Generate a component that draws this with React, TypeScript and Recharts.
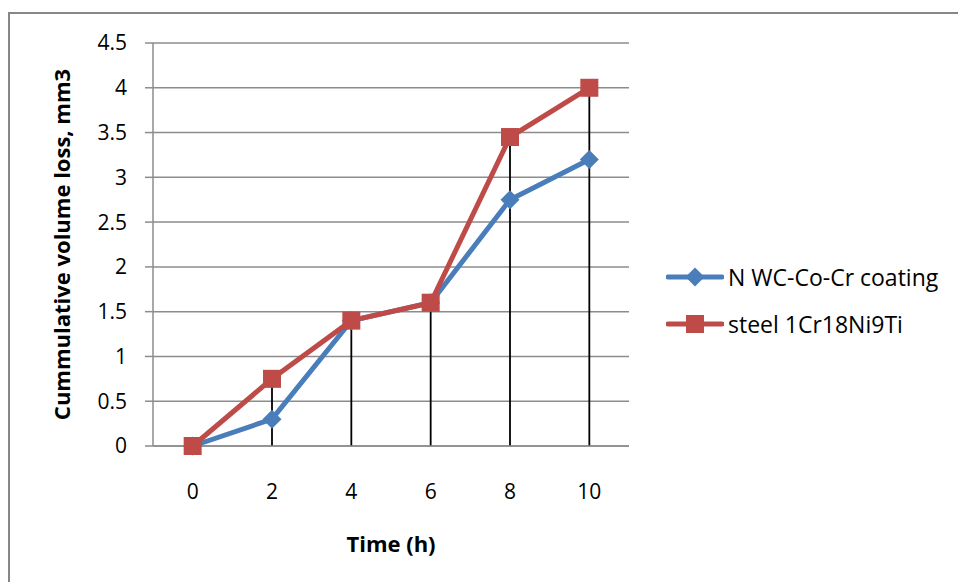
import React from "react";
import {
  ComposedChart,
  Line,
  XAxis,
  YAxis,
  CartesianGrid,
  ErrorBar,
  Label,
} from "recharts";

const hours = ["0", "2", "4", "6", "8", "10"];
const coatingLoss = [0, 0.3, 1.4, 1.6, 2.75, 3.2];
const steelLoss = [0, 0.75, 1.4, 1.6, 3.45, 4.0];
const yTicks = [0, 0.5, 1, 1.5, 2, 2.5, 3, 3.5, 4, 4.5];

const BLUE = "#4a7ebb";
const RED = "#be4b48";
const GRID = "#8c8c8c";
const FONT = "'Open Sans', sans-serif";

// drop line from the higher of the two series down to the axis
const data = hours.map((h, i) => {
  const top = Math.max(coatingLoss[i], steelLoss[i]);
  return {
    hour: h,
    coating: coatingLoss[i],
    steel: steelLoss[i],
    top,
    drop: [top, 0],
  };
});

const Diamond = (props: any) => {
  const { cx, cy, index } = props;
  if (cx == null || cy == null) return null;
  const r = 9.5;
  return (
    <polygon
      key={`d-${index}`}
      points={`${cx},${cy - r} ${cx + r},${cy} ${cx},${cy + r} ${cx - r},${cy}`}
      fill={BLUE}
    />
  );
};

const Square = (props: any) => {
  const { cx, cy, index } = props;
  if (cx == null || cy == null) return null;
  const s = 9;
  return <rect key={`s-${index}`} x={cx - s} y={cy - s} width={s * 2} height={s * 2} fill={RED} />;
};

const legendItems = [
  { name: "N WC-Co-Cr coating", color: BLUE, shape: "diamond" },
  { name: "steel 1Cr18Ni9Ti", color: RED, shape: "square" },
];

function ChartLegend() {
  return (
    <div style={{ position: "absolute", left: 666, top: 253, fontFamily: FONT }}>
      {legendItems.map((item) => (
        <div key={item.name} style={{ display: "flex", alignItems: "center", height: 47 }}>
          <svg width={58} height={22}>
            <line x1={2} y1={11} x2={56} y2={11} stroke={item.color} strokeWidth={5} strokeLinecap="round" />
            {item.shape === "diamond" ? (
              <polygon points="29,1.5 38.5,11 29,20.5 19.5,11" fill={item.color} />
            ) : (
              <rect x={20} y={2} width={18} height={18} fill={item.color} />
            )}
          </svg>
          <span style={{ fontSize: 23, color: "#000", marginLeft: 4 }}>{item.name}</span>
        </div>
      ))}
    </div>
  );
}

export default function App() {
  return (
    <div
      style={{
        position: "absolute",
        left: 0,
        top: 0,
        width: 958,
        height: 582,
        background: "#fff",
        overflow: "hidden",
      }}
    >
      <div
        style={{
          position: "absolute",
          left: 8,
          top: 12,
          width: 960,
          height: 600,
          borderTop: "2px solid #878787",
          borderLeft: "2px solid #878787",
        }}
      />
      <ComposedChart
        width={958}
        height={582}
        data={data}
        margin={{ top: 43, right: 329, bottom: 46, left: 83 }}
        style={{ position: "absolute", left: 0, top: 0 }}
      >
        <CartesianGrid vertical={false} stroke={GRID} strokeWidth={1.5} />
        <XAxis
          dataKey="hour"
          scale="band"
          stroke={GRID}
          strokeWidth={1.5}
          tickLine={false}
          tickMargin={32}
          tick={{ fill: "#000", fontSize: 21, fontFamily: FONT }}
          height={90}
        >
          <Label
            content={({ viewBox }: any) => (
              <text
                x={viewBox.x + viewBox.width / 2}
                y={552}
                textAnchor="middle"
                fontFamily={FONT}
                fontWeight="bold"
                fontSize={22}
                fill="#000"
              >
                Time (h)
              </text>
            )}
          />
        </XAxis>
        <YAxis
          domain={[0, 4.5]}
          ticks={yTicks}
          interval={0}
          width={70}
          stroke={GRID}
          strokeWidth={1.5}
          tickSize={8}
          tickMargin={18}
          tickLine={{ stroke: GRID, strokeWidth: 1.5 }}
          tick={{ fill: "#000", fontSize: 21, fontFamily: FONT }}
        >
          <Label
            content={({ viewBox }: any) => {
              const cy = viewBox.y + viewBox.height / 2;
              return (
                <text
                  x={70}
                  y={cy}
                  transform={`rotate(-90 70 ${cy})`}
                  textAnchor="middle"
                  fontFamily={FONT}
                  fontWeight="bold"
                  fontSize={22}
                  fill="#000"
                >
                  Cummulative volume loss, mm3
                </text>
              );
            }}
          />
        </YAxis>
        <Line
          dataKey="coating"
          stroke={BLUE}
          strokeWidth={5}
          dot={<Diamond />}
          activeDot={false}
          isAnimationActive={false}
        />
        <Line
          dataKey="steel"
          stroke={RED}
          strokeWidth={5}
          dot={<Square />}
          activeDot={false}
          isAnimationActive={false}
        />
        <Line
          dataKey="top"
          stroke="none"
          dot={false}
          activeDot={false}
          isAnimationActive={false}
        >
          <ErrorBar dataKey="drop" direction="y" width={0} stroke="#000" strokeWidth={1.8} isAnimationActive={false} />
        </Line>
      </ComposedChart>
      <ChartLegend />
    </div>
  );
}
